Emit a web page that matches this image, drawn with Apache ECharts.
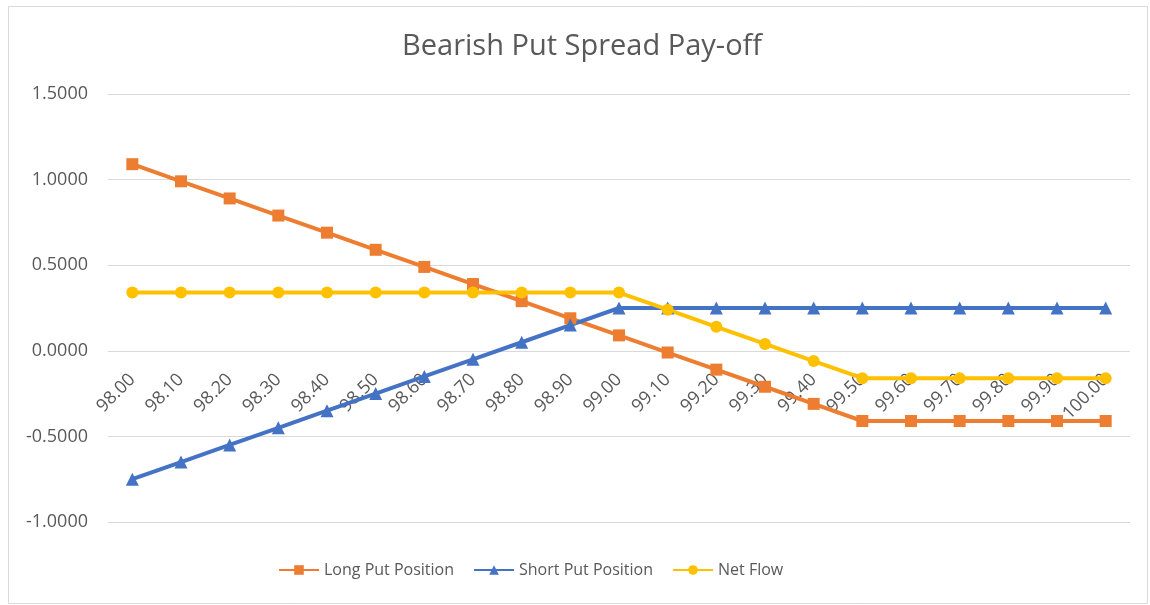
<!DOCTYPE html>
<html>
<head>
<meta charset="utf-8">
<script src="https://cdn.jsdelivr.net/npm/echarts@6/dist/echarts.min.js"></script>
<style>
  html, body { margin: 0; padding: 0; background: #fff; }
  #chart { width: 1150px; height: 605px; }
</style>
</head>
<body>
<div id="chart"></div>
<script>
const prices = ['98.00', '98.10', '98.20', '98.30', '98.40', '98.50', '98.60', '98.70', '98.80', '98.90',
  '99.00', '99.10', '99.20', '99.30', '99.40', '99.50', '99.60', '99.70', '99.80', '99.90', '100.00']
const longPut = [1.09, 0.99, 0.89, 0.79, 0.69, 0.59, 0.49, 0.39, 0.29, 0.19,
  0.09, -0.01, -0.11, -0.21, -0.31, -0.41, -0.41, -0.41, -0.41, -0.41, -0.41]
const shortPut = [-0.75, -0.65, -0.55, -0.45, -0.35, -0.25, -0.15, -0.05, 0.05, 0.15,
  0.25, 0.25, 0.25, 0.25, 0.25, 0.25, 0.25, 0.25, 0.25, 0.25, 0.25]
const netFlow = [0.34, 0.34, 0.34, 0.34, 0.34, 0.34, 0.34, 0.34, 0.34, 0.34,
  0.34, 0.24, 0.14, 0.04, -0.06, -0.16, -0.16, -0.16, -0.16, -0.16, -0.16]

const font = 'Open Sans'
const textColor = '#595959'

// grid box; the category labels hang just under the zero line
const gridTop = 94
const gridBottom = 83
const yMin = -1
const yMax = 1.5
const plotH = 605 - gridTop - gridBottom
const zeroLift = plotH * (0 - yMin) / (yMax - yMin)

const chart = echarts.init(document.getElementById('chart'))

function lineSeries(name, data, color, symbol, size) {
  return {
    name,
    type: 'line',
    data,
    symbol,
    symbolSize: size,
    showAllSymbol: true,
    lineStyle: { color, width: 4 },
    itemStyle: { color },
    emphasis: { disabled: true },
    animation: false
  }
}

chart.setOption({
  backgroundColor: '#fff',
  animation: false,
  title: {
    text: 'Bearish Put Spread Pay-off',
    left: 397,
    top: 27,
    textStyle: { fontFamily: font, fontSize: 29, fontWeight: 'normal', color: textColor }
  },
  graphic: [{
    type: 'rect',
    shape: { x: 8.5, y: 6.5, width: 1139, height: 597 },
    style: { fill: 'none', stroke: '#d9d9d9', lineWidth: 1 },
    silent: true
  }],
  legend: {
    bottom: 22,
    left: 273,
    itemWidth: 40,
    itemHeight: 12,
    itemGap: 19,
    textStyle: { fontFamily: font, fontSize: 16, color: textColor },
    data: ['Long Put Position', 'Short Put Position', 'Net Flow']
  },
  grid: { left: 108, right: 20, top: gridTop, bottom: gridBottom },
  xAxis: {
    type: 'category',
    data: prices,
    boundaryGap: true,
    position: 'bottom',
    offset: -zeroLift,
    axisLine: { show: false, onZero: false },
    axisTick: { show: false },
    axisLabel: {
      rotate: 45,
      margin: 26,
      interval: 0,
      fontFamily: font,
      fontSize: 18,
      color: textColor
    }
  },
  yAxis: {
    type: 'value',
    min: yMin,
    max: yMax,
    interval: 0.5,
    axisLine: { show: false },
    axisTick: { show: false },
    splitLine: { lineStyle: { color: '#d9d9d9', width: 1 } },
    axisLabel: {
      margin: 20,
      fontFamily: font,
      fontSize: 18,
      color: textColor,
      formatter: v => v.toFixed(4)
    }
  },
  series: [
    lineSeries('Long Put Position', longPut, '#ED7D31', 'rect', 12),
    lineSeries('Short Put Position', shortPut, '#4472C4', 'triangle', 13),
    lineSeries('Net Flow', netFlow, '#FFC000', 'circle', 12)
  ]
})
</script>
</body>
</html>
